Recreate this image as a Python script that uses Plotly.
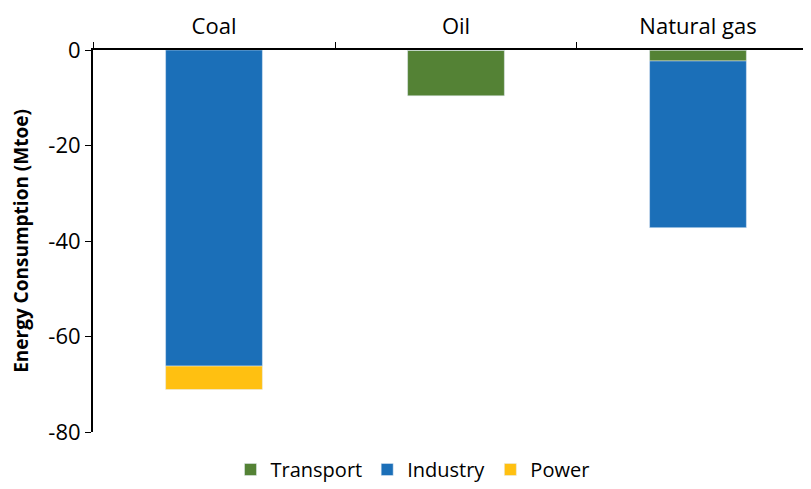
import plotly.graph_objects as go

fuels = ["Coal", "Oil", "Natural gas"]
transport = [0, -9.6, -2.3]
industry = [-66.2, 0, -34.9]
power = [-4.9, 0, 0]
y_ticks = [0, -20, -40, -60, -80]
y_tick_labels = ["0", "-20", "-40", "-60", "-80"]

fig = go.Figure()
fig.add_trace(go.Bar(x=fuels, y=transport, name="Transport", marker_color="#548235"))
fig.add_trace(go.Bar(x=fuels, y=industry, name="Industry", marker_color="#1B6FB8"))
fig.add_trace(go.Bar(x=fuels, y=power, name="Power", marker_color="#FFC011"))

# page body has an 8px margin, so the figure is a bit smaller than the window
fig.update_layout(
    barmode="relative",
    bargap=0.6,
    width=803, height=481,
    margin=dict(l=85, r=0, t=42, b=57),
    plot_bgcolor="white", paper_bgcolor="white",
    font=dict(family="Open Sans", size=22, color="#000"),
    legend=dict(orientation="h", x=0.445, xanchor="center",
                yref="container", y=-0.012, yanchor="bottom",
                font=dict(size=20), itemwidth=30, traceorder="normal"),
    showlegend=True,
)
fig.update_xaxes(
    side="top", showline=True, linecolor="black", linewidth=2,
    ticks="outside", tickson="boundaries", ticklen=6, tickcolor="black",
    range=[-0.5, 2.467], tickfont=dict(size=22), automargin=False,
    ticklabelstandoff=5,
)
fig.update_yaxes(
    range=[-80, 0], tickvals=y_ticks, ticktext=y_tick_labels,
    showline=True, linecolor="black", linewidth=2,
    ticks="outside", ticklen=6, tickcolor="black", showgrid=False, zeroline=False,
    title=dict(text="<b>Energy Consumption (Mtoe)</b>", font=dict(size=19), standoff=17),
    tickfont=dict(size=22), automargin=False,
)

fig.write_html("out.html")
